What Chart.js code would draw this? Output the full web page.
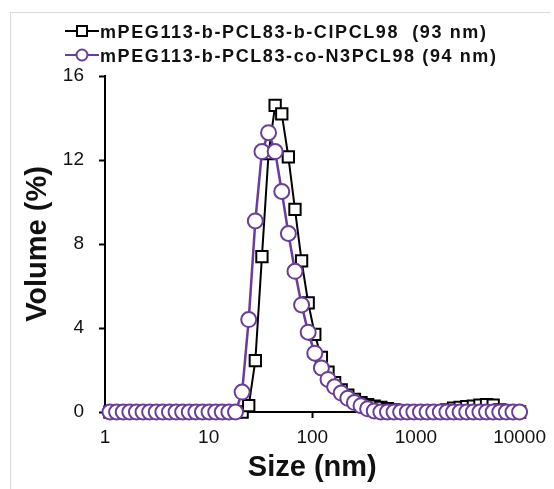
<!DOCTYPE html>
<html>
<head>
<meta charset="utf-8">
<script src="https://cdn.jsdelivr.net/npm/chart.js@4.4.1/dist/chart.umd.min.js"></script>
<style>
  html, body { margin: 0; padding: 0; background: #fff; }
  #wrap { position: relative; width: 554px; height: 489px; overflow: hidden; }
  #frame { position: absolute; left: 10px; top: 12px; right: 4px; bottom: -2px; border-left: 1px solid #dcdcdc; border-top: 1px solid #dcdcdc; }
  #chart { position: absolute; left: 0; top: 0; }
  #legend { position: absolute; left: 65px; top: 20px; font: bold 18px "Liberation Sans", Arial, sans-serif; letter-spacing: 1.6px; line-height: 24px; color: #111; }
  #legend div { white-space: pre; height: 24px; }
  #legend svg { vertical-align: baseline; margin-right: 1px; }
</style>
</head>
<body>
<div id="wrap">
  <div id="frame"></div>
  <canvas id="chart" width="554" height="489"></canvas>
  <div id="legend"><div><svg width="34" height="14"><line x1="0" y1="7" x2="34" y2="7" stroke="#000" stroke-width="2"/><rect x="12" y="2" width="10" height="10" fill="#fff" stroke="#000" stroke-width="2"/></svg>mPEG113-b-PCL83-b-ClPCL98  (93 nm)</div><div><svg width="34" height="16"><line x1="0" y1="9" x2="34" y2="9" stroke="#6a3d9a" stroke-width="2"/><circle cx="17" cy="9" r="5.5" fill="#fff" stroke="#6a3d9a" stroke-width="2"/></svg>mPEG113-b-PCL83-co-N3PCL98 (94 nm)</div></div>
</div>
<script>
(function () {
    "use strict";

    // size bins (nm)
    const sizes = [1.117, 1.294, 1.499, 1.736, 2.010, 2.328, 2.696, 3.122, 3.615, 4.187,
        4.849, 5.615, 6.503, 7.531, 8.721, 10.10, 11.70, 13.54, 15.69, 18.17,
        21.04, 24.36, 28.21, 32.67, 37.84, 43.82, 50.75, 58.77, 68.06, 78.82,
        91.28, 105.7, 122.4, 141.8, 164.2, 190.1, 220.2, 255.0, 295.3, 342.0,
        396.1, 458.7, 531.2, 615.1, 712.4, 825.0, 955.4, 1106, 1281, 1484,
        1718, 1990, 2305, 2669, 3091, 3580, 4145, 4801, 5560, 6439,
        7456, 8635, 10000];

    // volume (%) - mPEG113-b-PCL83-b-ClPCL98
    const volCl = [0, 0, 0, 0, 0, 0, 0, 0, 0, 0,
        0, 0, 0, 0, 0, 0, 0, 0, 0, 0,
        0, 0.3, 2.45, 7.4, 12.3, 14.6, 14.2, 12.15, 9.65, 7.2,
        5.2, 3.7, 2.6, 1.9, 1.4, 1.05, 0.8, 0.6, 0.45, 0.35,
        0.28, 0.22, 0.16, 0.1, 0.05, 0.02, 0, 0, 0, 0,
        0.03, 0.1, 0.18, 0.22, 0.25, 0.28, 0.32, 0.35, 0.32, 0.1,
        0, 0, 0];

    // volume (%) - mPEG113-b-PCL83-co-N3PCL98
    const volN3 = [0, 0, 0, 0, 0, 0, 0, 0, 0, 0,
        0, 0, 0, 0, 0, 0, 0, 0, 0, 0,
        0.95, 4.4, 9.1, 12.4, 13.3, 12.4, 10.5, 8.5, 6.7, 5.1,
        3.8, 2.8, 2.1, 1.55, 1.2, 0.9, 0.65, 0.45, 0.3, 0.15,
        0.05, 0, 0, 0, 0, 0, 0, 0, 0, 0,
        0, 0, 0, 0, 0, 0, 0, 0, 0, 0,
        0, 0, 0];

    const xTicks = [1, 10, 100, 1000, 10000];
    const yTicks = [0, 4, 8, 12, 16];

    const purple = "#6a3d9a";
    const ink = "#111";

    Chart.defaults.font.family = "'Liberation Sans', Arial, sans-serif";
    Chart.defaults.color = ink;

    const pts = (vals) => sizes.map((x, i) => ({ x: x, y: vals[i] }));

    new Chart(document.getElementById("chart"), {
        type: "line",
        data: {
            datasets: [
                { label: "mPEG113-b-PCL83-b-ClPCL98  (93 nm)", data: pts(volCl), order: 2, clip: false,
                  borderColor: "#000", borderWidth: 2, tension: 0,
                  pointStyle: "rect", pointRadius: 8, pointBorderWidth: 2, pointBorderColor: "#000", pointBackgroundColor: "#fff" },
                { label: "mPEG113-b-PCL83-co-N3PCL98 (94 nm)", data: pts(volN3), order: 1, clip: false,
                  borderColor: purple, borderWidth: 2.5, tension: 0,
                  pointStyle: "circle", pointRadius: 7.5, pointBorderWidth: 2, pointBorderColor: purple, pointBackgroundColor: "#fff" },
            ],
        },
        options: {
            responsive: false,
            animation: false,
            events: [],
            layout: { padding: { top: 76, right: 33, bottom: 0, left: 0 } },
            plugins: { legend: { display: false }, tooltip: { enabled: false } },
            scales: {
                x: {
                    type: "logarithmic", min: 1, max: 10000,
                    afterBuildTicks: (s) => { s.ticks = xTicks.map((v) => ({ value: v })); },
                    afterFit: (s) => { s.height = 77; },
                    ticks: { callback: (v) => String(v), font: { size: 19 }, color: ink, padding: 8, maxRotation: 0, autoSkip: false },
                    grid: { drawOnChartArea: false, tickLength: 6, tickColor: "#000", tickWidth: 2 },
                    border: { color: "#000", width: 2 },
                    title: { display: true, text: "Size (nm)", font: { size: 29, weight: "bold" }, color: ink, padding: { top: 0, bottom: 4 } },
                },
                y: {
                    min: 0, max: 16,
                    afterBuildTicks: (s) => { s.ticks = yTicks.map((v) => ({ value: v })); },
                    afterFit: (s) => { s.width = 105; },
                    ticks: { font: { size: 19 }, color: ink, padding: 15 },
                    grid: { drawOnChartArea: false, tickLength: 6, tickColor: "#000", tickWidth: 2 },
                    border: { color: "#000", width: 2 },
                    title: { display: true, text: "Volume (%)", font: { size: 29, weight: "bold" }, color: ink, padding: { top: 21, bottom: 0 } },
                },
            },
        },
    });
})();
</script>
</body>
</html>
